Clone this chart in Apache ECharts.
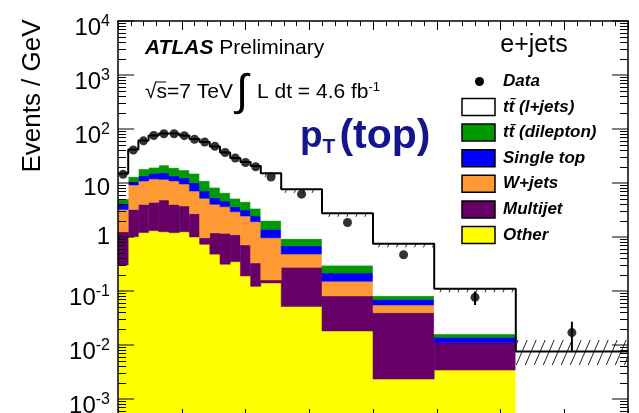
<!DOCTYPE html>
<html><head><meta charset="utf-8">
<script src="https://cdn.jsdelivr.net/npm/echarts@6/dist/echarts.min.js"></script>
<style>html,body{margin:0;padding:0;background:#fff;overflow:hidden}#c{width:639px;height:413px}</style>
</head><body><div id="c"></div>
<script>
// ---- data (GeV bins, Events / GeV) ----
const binEdges = [0,16,32,48,64,80,96,112,128,144,160,176,192,208,224,256,320,400,496,624,800];
const otherVals     = [0.303,1.01,1.21,1.31,1.25,1.20,1.25,1.00,0.733,0.481,0.313,0.349,0.190,0.122,0.141,0.0516,0.0182,0.00234,0.00344,0];
const multijetVals  = [0.947,2.22,2.79,3.08,3.59,2.80,2.50,1.70,0.233,0.709,0.857,0.751,0.521,0.208,0.019,0.223,0.0629,0.0373,0.0076,0];
const wjetsVals     = [1.98,5.95,6.90,7.51,6.86,6.90,5.83,4.41,4.24,2.84,2.47,1.84,1.74,1.59,0.806,0.209,0.070,0.0155,0,0];
const singleTopVals = [0.94,1.42,2.70,3.20,3.80,2.70,2.92,2.99,1.90,1.31,1.00,0.70,0.71,0.53,0.424,0.203,0.064,0.0142,0.0029,0];
const dileptonVals  = [0.89,2.50,4.60,4.40,6.00,5.60,4.90,5.00,3.89,2.98,1.97,1.57,1.35,0.95,0.63,0.246,0.084,0.0122,0.0021,0];
const ljetsVals     = [9.94,28.6,43.0,56.3,61.1,63.4,58.4,50.2,46.4,39.1,30.1,23.8,20.0,17.2,13.1,6.71,2.45,0.667,0.094,0.00758];
const dataVals      = [14.5,40.9,60.4,75.8,81.8,81.8,75.2,64.7,57.4,47.8,36.7,29.0,24.0,20.0,12.9,6.21,1.86,0.470,0.0764,0.0170];
const dataErrDown   = [0,0,0,0,0,0,0,0,0,0,0,0,0,0,0,0,0,0,0.0213,0.00916];
const dataErrUp     = [0,0,0,0,0,0,0,0,0,0,0,0,0,0,0,0,0,0,0.0213,0.0100];
const bandLowVals   = [null,null,null,null,null,null,null,null,null,null,null,null,null,null,13.0,6.57,2.37,0.643,0.0946,0.00426];
const bandHighVals  = [null,null,null,null,null,null,null,null,null,null,null,null,null,null,15.12,7.64,2.75,0.748,0.110,0.01238];
const majorTickExponents = [-3,-2,-1,0,1,2,3,4];
const minorTickMultipliers = [2,3,4,5,6,7,8,9];
const legendLabels = ['Data','tt\u0304 (l+jets)','tt\u0304 (dilepton)','Single top','W+jets','Multijet','Other'];

const FONT = '"Liberation Sans", Arial, Helvetica, sans-serif';
const Y_MIN = 0.000445, Y_MAX = 10000;

const comps = [
  {name:'Other', vals: otherVals, color:'#ffff00'},
  {name:'Multijet', vals: multijetVals, color:'#660066'},
  {name:'W+jets', vals: wjetsVals, color:'#ff9933'},
  {name:'Single top', vals: singleTopVals, color:'#0000ff'},
  {name:'tt dilepton', vals: dileptonVals, color:'#009900'},
  {name:'tt l+jets', vals: ljetsVals, color:'#ffffff'}
];
const nb = binEdges.length - 1;
const cum = new Array(nb).fill(0);
const series = [];
comps.forEach(function(c){
  const items = [];
  for (let i=0;i<nb;i++){
    const lo = cum[i], hi = cum[i] + c.vals[i];
    items.push([binEdges[i], binEdges[i+1], lo, hi]);
    cum[i] = hi;
  }
  series.push({
    type:'custom', name:c.name, z:2, encode:{x:[0,1], y:[2,3]}, data: items,
    renderItem: function(params, api){
      const x0=api.value(0), x1=api.value(1), lo=api.value(2), hi=api.value(3);
      if (!(hi > lo) || hi <= Y_MIN) return;
      const p0 = api.coord([x0, hi]);
      const p1 = api.coord([x1, lo > Y_MIN ? lo : Y_MIN]);
      return {type:'rect', shape:{x:p0[0], y:p0[1], width:p1[0]-p0[0], height:p1[1]-p0[1]},
              style:{fill:c.color, stroke:c.color, lineWidth:0.5}};
    }
  });
});
const totals = cum.slice();

// hatched uncertainty band
const bandItems = [];
for (let i=0;i<nb;i++) if (bandLowVals[i] != null) bandItems.push([binEdges[i], binEdges[i+1], bandLowVals[i], bandHighVals[i]]);
series.push({
  type:'custom', name:'band', z:3, encode:{x:[0,1], y:[2,3]}, data: bandItems,
  renderItem: function(params, api){
    const a = api.coord([api.value(0), api.value(3)]);
    const b = api.coord([api.value(1), api.value(2)]);
    const X0=a[0], X1=b[0], Y0=a[1], Y1=b[1];
    const k = 2.3, s = 9, children = [];
    const cMin = X0 + Y0/k, cMax = X1 + Y1/k;
    for (let cc = Math.ceil(cMin/s)*s; cc <= cMax; cc += s){
      const xa = Math.max(X0, cc - Y1/k), xb = Math.min(X1, cc - Y0/k);
      if (xb > xa) children.push({type:'line', shape:{x1:xa, y1:k*(cc-xa), x2:xb, y2:k*(cc-xb)}, style:{stroke:'#222', lineWidth:1}});
    }
    return {type:'group', children: children};
  }
});

// total MC step line
const stepData = [];
for (let i=0;i<nb;i++) stepData.push([binEdges[i], totals[i]]);
stepData.push([binEdges[nb], totals[nb-1]]);
series.push({type:'line', name:'MC total', step:'end', data: stepData, symbol:'none', z:4,
  lineStyle:{color:'#000', width:2}, animation:false});

// data error bars
const errItems = [];
for (let i=0;i<nb;i++) if (dataErrDown[i] > 0 || dataErrUp[i] > 0)
  errItems.push([(binEdges[i]+binEdges[i+1])/2, dataVals[i]-dataErrDown[i], dataVals[i]+dataErrUp[i]]);
series.push({type:'custom', name:'errors', z:5, encode:{x:0, y:[1,2]}, data: errItems,
  renderItem: function(params, api){
    const p0 = api.coord([api.value(0), api.value(1)]);
    const p1 = api.coord([api.value(0), api.value(2)]);
    return {type:'line', shape:{x1:p0[0], y1:p0[1], x2:p1[0], y2:p1[1]}, style:{stroke:'#000', lineWidth:2}};
  }
});
// data points
series.push({type:'scatter', name:'Data', z:6, symbol:'circle', symbolSize:9,
  itemStyle:{color:'#000'}, data: dataVals.map(function(v,i){ return [(binEdges[i]+binEdges[i+1])/2, v]; })});

// log y ticks (major + minor) on both sides, ROOT style
series.push({type:'custom', name:'yTicks', z:20, encode:{x:0, y:1}, data:[[400,1]], silent:true, clip:false,
  renderItem: function(params, api){
    const cs = params.coordSys;
    const xl = cs.x, xr = cs.x + cs.width;
    let d = '';
    majorTickExponents.forEach(function(n){
      const y = api.coord([400, Math.pow(10,n)])[1];
      d += 'M' + xl + ' ' + y + 'L' + (xl+16) + ' ' + y;
      d += 'M' + (xr-16) + ' ' + y + 'L' + xr + ' ' + y;
      minorTickMultipliers.forEach(function(m){
        const v = m*Math.pow(10,n-1);
        if (v <= Y_MIN || v >= Y_MAX) return;
        const yy = Math.round(api.coord([400, v])[1]) + 0.5;
        d += 'M' + xl + ' ' + yy + 'L' + (xl+8) + ' ' + yy;
        d += 'M' + (xr-8) + ' ' + yy + 'L' + xr + ' ' + yy;
      });
    });
    return {type:'path', shape:{pathData:d}, style:{stroke:'#000', lineWidth:1, fill:null}};
  }
});

function xAx(pos){
  return {type:'value', min:0, max:800, interval:100, position:pos, z:10,
    axisLine:{show:true, onZero:false, lineStyle:{color:'#000', width:1.5}},
    axisTick:{show:true, inside:true, length:9, lineStyle:{color:'#000', width:1}},
    minorTick:{show:true, splitNumber:5, length:5, lineStyle:{color:'#000', width:1}},
    axisLabel:{show:false}, splitLine:{show:false}, minorSplitLine:{show:false}};
}
function yAx(pos, labels){
  return {type:'log', logBase:10, min:Y_MIN, max:Y_MAX, splitNumber:8, position:pos, z:10,
    axisLine:{show:true, onZero:false, lineStyle:{color:'#000', width:1.5}},
    axisTick:{show:false},
    splitLine:{show:false},
    axisLabel:{show:labels, showMinLabel:false, margin:8, fontFamily:FONT, color:'#000',
      formatter:function(v){
        const e = Math.round(Math.log10(v));
        if (e === 0) return '{c|1}';
        if (e === 1) return '{d|10}';
        return '{b|10}{s|' + e + '}';
      },
      rich:{ c:{fontSize:24, fontFamily:FONT, color:'#000', lineHeight:26},
             d:{fontSize:24, fontFamily:FONT, color:'#000', lineHeight:34, verticalAlign:'bottom'},
             b:{fontSize:24, fontFamily:FONT, color:'#000', lineHeight:38, verticalAlign:'bottom'},
             s:{fontSize:16, fontFamily:FONT, color:'#000', lineHeight:14, verticalAlign:'bottom', padding:[0,0,10,0]} }
    }};
}

const legendColors = ['#ffffff','#009900','#0000ff','#ff9933','#660066','#ffff00'];
const graphics = [];
graphics.push({type:'text', x:33, y:96, rotation:Math.PI/2, z:20,
  style:{text:'Events / GeV', fontSize:26, fontFamily:FONT, fill:'#000', align:'center', verticalAlign:'middle'}});
graphics.push({type:'text', x:145, y:48.5, z:20,
  style:{text:'{a|ATLAS}{b| Preliminary}', verticalAlign:'middle', align:'left',
    rich:{a:{fontSize:21, fontFamily:FONT, fontWeight:'bold', fontStyle:'italic', fill:'#000'},
          b:{fontSize:21, fontFamily:FONT, fill:'#000'}}}});
graphics.push({type:'text', x:145, y:92.5, z:20,
  style:{text:'\u221As=7 TeV', fontSize:21, fontFamily:FONT, fill:'#000', align:'left', verticalAlign:'middle'}});
graphics.push({type:'line', z:20, shape:{x1:156, y1:82, x2:166, y2:82}, style:{stroke:'#000', lineWidth:1}});
graphics.push({type:'text', x:236, y:93, z:20,
  style:{text:'\u222B', fontSize:44, fontFamily:FONT, fill:'#000', align:'left', verticalAlign:'middle'}});
graphics.push({type:'text', x:257, y:92.5, z:20,
  style:{text:'{n|L dt = 4.6 fb}{p|-1}', align:'left', verticalAlign:'middle',
    rich:{n:{fontSize:21, fontFamily:FONT, fill:'#000', lineHeight:24},
          p:{fontSize:13, fontFamily:FONT, fill:'#000', lineHeight:12, verticalAlign:'top'}}}});
graphics.push({type:'text', x:534, y:45, z:20,
  style:{text:'e+jets', fontSize:25, fontFamily:FONT, fill:'#000', align:'center', verticalAlign:'middle'}});
graphics.push({type:'text', x:300, y:137, z:20,
  style:{text:'{m|p}{t|T}{q|(top)}', align:'left', verticalAlign:'middle',
    rich:{m:{fontSize:37, fontFamily:FONT, fontWeight:'bold', fill:'#14148c', lineHeight:42},
          q:{fontSize:41, fontFamily:FONT, fontWeight:'bold', fill:'#14148c', lineHeight:42, padding:[0,0,0,4]},
          t:{fontSize:21, fontFamily:FONT, fontWeight:'bold', fill:'#14148c', lineHeight:12, verticalAlign:'bottom'}}}});
// legend
graphics.push({type:'circle', z:20, shape:{cx:479.5, cy:81.5, r:4.5}, style:{fill:'#000'}});
graphics.push({type:'text', x:503, y:81.5, z:20,
  style:{text:legendLabels[0], fontSize:17, fontFamily:FONT, fontWeight:'bold', fontStyle:'italic', fill:'#000', verticalAlign:'middle'}});
for (let i=0;i<6;i++){
  const cy = 107 + i*25.6;
  graphics.push({type:'rect', z:20, shape:{x:462, y:cy-8.5, width:33, height:17},
    style:{fill:legendColors[i], stroke:'#000', lineWidth:1.5}});
  graphics.push({type:'text', x:503, y:cy, z:20,
    style:{text:legendLabels[i+1], fontSize:17, fontFamily:FONT, fontWeight:'bold', fontStyle:'italic', fill:'#000', verticalAlign:'middle'}});
}

const chart = echarts.init(document.getElementById('c'), null, {renderer:'canvas'});
chart.setOption({
  animation:false,
  backgroundColor:'#ffffff',
  textStyle:{fontFamily:FONT},
  grid:{left:118, right:11, top:21, bottom:-5, containLabel:false, outerBoundsMode:'none'},
  xAxis:[xAx('bottom'), xAx('top')],
  yAxis:[yAx('left', true), yAx('right', false)],
  series: series,
  graphic: graphics
});
</script>
</body></html>
